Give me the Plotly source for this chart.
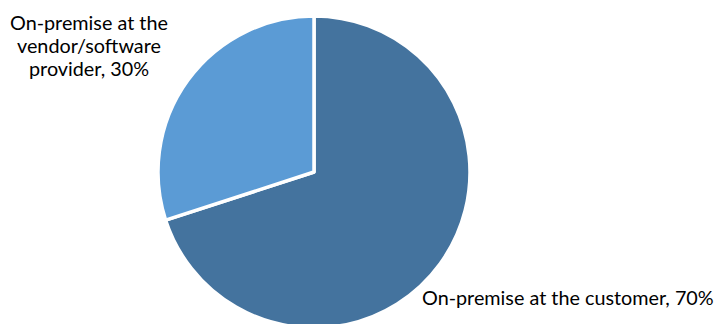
import plotly.graph_objects as go

# Hosting location shares (drawn clockwise from 12 o'clock)
locations = ["On-premise at the customer", "On-premise at the vendor/software provider"]
shares = [70, 30]
slice_colors = ["#44739E", "#5B9BD5"]
vendor_label_lines = ["On-premise at the", "vendor/software", "provider, 30%"]
customer_label = "On-premise at the customer, 70%"

W, H = 716, 332  # canvas slightly taller than the window so the pie runs off the bottom

def px_x(x):
    return x / W

def px_y(y):
    return 1 - y / H

fig = go.Figure(
    go.Pie(
        labels=locations,
        values=shares,
        sort=False,
        direction="clockwise",
        rotation=0,
        marker=dict(colors=slice_colors, line=dict(color="white", width=3.5)),
        textinfo="none",
        hoverinfo="label+percent",
        showlegend=False,
        domain=dict(x=[px_x(158), px_x(470)], y=[px_y(328), px_y(16)]),
    )
)

font = dict(family="Lato, Carlito, Calibri, sans-serif", size=19.8, color="#000000")

# vendor label, one line per row with tight line spacing
for i, line in enumerate(vendor_label_lines):
    fig.add_annotation(text=line, x=px_x(88.5), y=px_y(21.5 + 23.4 * i), xref="paper", yref="paper",
                       xanchor="center", yanchor="middle", showarrow=False, align="center", font=font)

fig.add_annotation(text=customer_label, x=px_x(568), y=px_y(297), xref="paper", yref="paper",
                   xanchor="center", yanchor="middle", showarrow=False, align="center", font=font)

fig.update_layout(
    width=W,
    height=H,
    margin=dict(l=0, r=0, t=0, b=0),
    paper_bgcolor="white",
    plot_bgcolor="white",
)

fig.write_html(
    "out.html",
    post_script="document.documentElement.style.overflow='hidden';document.body.style.overflow='hidden';document.body.style.margin='0';",
)
